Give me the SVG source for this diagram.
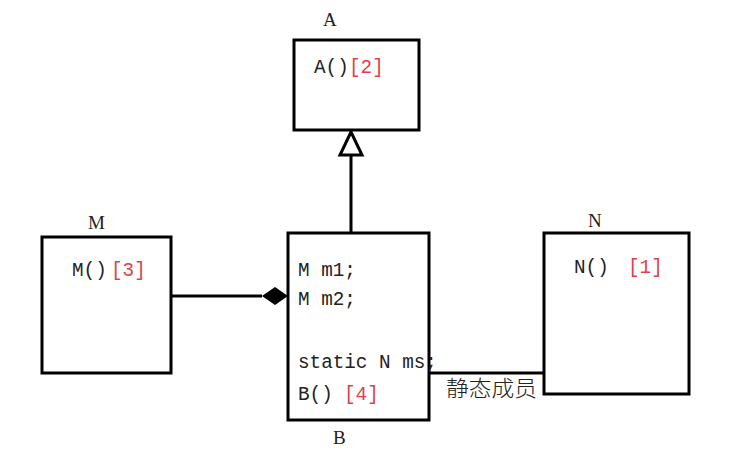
<svg xmlns="http://www.w3.org/2000/svg" width="730" height="455" viewBox="0 0 730 455">
<style>
.box{fill:#fff;stroke:#000;stroke-width:3}
.t{font-family:"Liberation Mono","Noto Sans CJK SC",monospace;font-size:19.3px;fill:#222}
.r{fill:#e0404a}
.lbl{font-family:"Liberation Serif","Noto Sans CJK SC",serif;font-size:19px;fill:#222}
.cn{font-family:"Noto Sans CJK SC","Liberation Serif",serif;font-size:22px;font-weight:300;fill:#222}
.ln{stroke:#000;stroke-width:3;fill:none}
</style>
<rect width="730" height="455" fill="#fff"/>
<g id="connectors">
<line class="ln" x1="351" y1="155" x2="351" y2="233"/>
<polygon points="351,132 340,155 362,155" fill="#fff" stroke="#000" stroke-width="3"/>
<line class="ln" x1="165" y1="296" x2="262" y2="296"/>
<polygon points="262,296 275,287 288,296 275,305" fill="#000"/>
<line class="ln" x1="429" y1="373" x2="547" y2="373"/>
<text class="cn" x="446" y="396" textLength="91" lengthAdjust="spacingAndGlyphs">静态成员</text>
</g>
<g id="A">
<text class="lbl" x="323" y="26">A</text>
<rect class="box" x="294" y="40" width="125" height="90"/>
<text class="t" x="314" y="73">A()</text>
<text class="t r" x="349" y="73">[2]</text>
</g>
<g id="M">
<text class="lbl" x="88" y="229">M</text>
<rect class="box" x="42" y="237" width="129" height="136"/>
<text class="t" x="72" y="276">M()</text>
<text class="t r" x="111" y="276">[3]</text>
</g>
<g id="B">
<rect class="box" x="288" y="233" width="141" height="187"/>
<text class="t" x="298" y="276">M m1;</text>
<text class="t" x="298" y="305">M m2;</text>
<text class="t" x="298" y="368">static N ms;</text>
<text class="t" x="298" y="400">B()</text>
<text class="t r" x="344" y="400">[4]</text>
<text class="lbl" x="333" y="444">B</text>
</g>
<g id="N">
<text class="lbl" x="588" y="227">N</text>
<rect class="box" x="544" y="233" width="145" height="161"/>
<text class="t" x="574" y="273">N()</text>
<text class="t r" x="628" y="273">[1]</text>
</g>
</svg>
